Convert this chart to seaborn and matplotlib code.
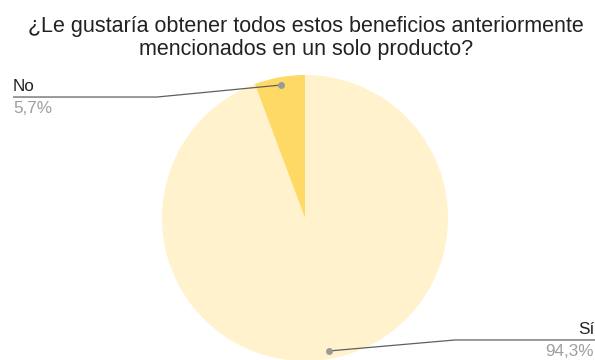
import numpy as np
import matplotlib
matplotlib.use("Agg")
import matplotlib.pyplot as plt
import seaborn as sns

# Survey answers
labels = ["Sí", "No"]
values = [94.3, 5.7]
slice_colors = ["#FFF2CC", "#FFD966"]
title = "¿Le gustaría obtener todos estos beneficios anteriormente\nmencionados en un solo producto?"

sns.set_style("white")
plt.rcParams["font.family"] = ["Liberation Sans", "DejaVu Sans"]

W, H = 595, 360
fig = plt.figure(figsize=(W / 100, H / 100), dpi=100)
ax = fig.add_axes([0, 0, 1, 1])

# Work in pixel-like units with y pointing up
cx, cy, r = 305, H - 218, 143
wedges, _ = ax.pie(values, colors=slice_colors, startangle=90, counterclock=False,
                   center=(cx, cy), radius=r, wedgeprops=dict(linewidth=0))
ax.set_xlim(0, W)
ax.set_ylim(0, H)
ax.set_aspect("equal")
ax.axis("off")

fig.text(306 / W, 1 - 16 / H, title, ha="center", va="top", fontsize=15.5,
         color="#222222", linespacing=1.12)

line_col = "#5f5f5f"
dot_col = "#9a9a9a"
label_fs = 12.3
pct_fmt = lambda v: f"{v:.1f}".replace(".", ",") + "%"

# Leader-line layout per slice: (elbow x, elbow y offset from dot, text end x, text alignment)
layout = {
    "No": dict(elbow_x=157, dy=-12, end_x=13, ha="left"),
    "Sí": dict(elbow_x=455, dy=11, end_x=600, ha="right"),
}

for w, lab, v in zip(wedges, labels, values):
    mid = np.deg2rad((w.theta1 + w.theta2) / 2)
    px = cx + 0.945 * r * np.cos(mid)
    py = cy + 0.945 * r * np.sin(mid)
    lay = layout[lab]
    ey = py + lay["dy"]
    ax.plot([px, lay["elbow_x"], lay["end_x"]], [py, ey, ey], color=line_col,
            lw=0.9, solid_capstyle="butt", zorder=3, clip_on=False)
    ax.plot([px], [py], "o", ms=4, color=dot_col, zorder=4)
    tx = 13 if lay["ha"] == "left" else 594
    ax.text(tx, ey + 3, lab, ha=lay["ha"], va="bottom", fontsize=label_fs,
            color="#222222")
    ax.text(tx, ey - 4, pct_fmt(v), ha=lay["ha"], va="top", fontsize=label_fs,
            color="#9e9e9e")

fig.savefig("out.png", dpi=100)
